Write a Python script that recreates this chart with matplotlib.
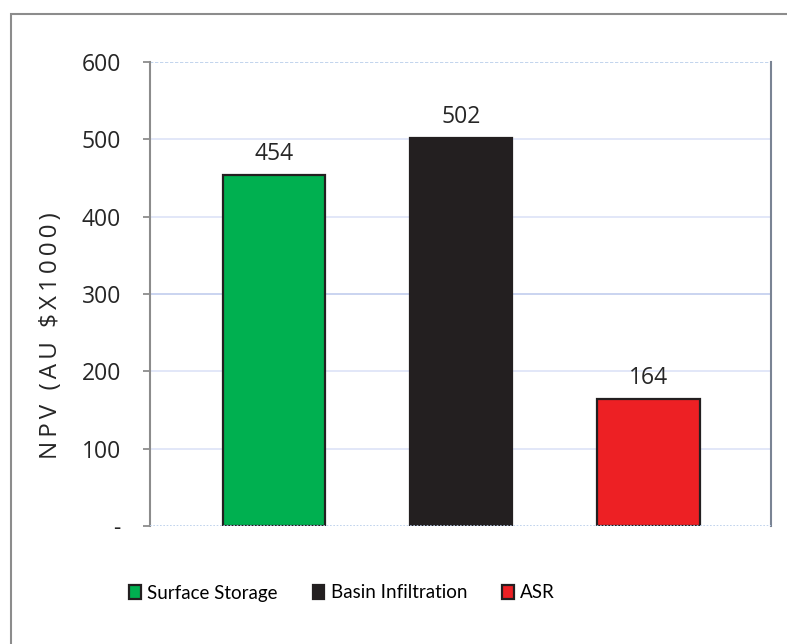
import matplotlib.pyplot as plt
from matplotlib.patches import Rectangle

# NPV per recharge option (AU $ x1000)
options = ["Surface Storage", "Basin Infiltration", "ASR"]
npv = [454, 502, 164]
bar_colors = ["#00B050", "#231F20", "#ED2024"]
edge_colors = ["#231F20", "#231F20", "#231F20"]
yticks = [0, 100, 200, 300, 400, 500, 600]
ytick_labels = ["-", "100", "200", "300", "400", "500", "600"]
ylabel = "NPV (AU $X1000)"

plt.rcParams["font.family"] = ["Open Sans", "DejaVu Sans"]

fig = plt.figure(figsize=(7.87, 6.44), dpi=100)
ax = fig.add_axes([150 / 787, 1 - 526 / 644, 621 / 787, 464 / 644])

# outer chart-area frame (only top and left fall inside the image)
fig.add_artist(Rectangle((11 / 787, -0.1), 1.2, 1 - 14 / 644 + 0.1,
                         transform=fig.transFigure, fill=False,
                         edgecolor="#8c8c8c", linewidth=1.5))

x = range(len(options))
bars = ax.bar(x, npv, width=0.55, color=bar_colors, edgecolor=edge_colors,
              linewidth=1.6, zorder=3, label=options)
for xi, v in zip(x, npv):
    ax.text(xi, v + 12, str(v), ha="center", va="bottom", fontsize=16.5,
            color="#262626")

ax.set_xlim(-0.663, 2.657)
ax.set_ylim(0, 600)
ax.set_yticks(yticks)
ax.set_yticklabels(ytick_labels, fontsize=16.5, color="#262626")
ax.set_xticks([])

for y in yticks[1:-1]:
    ax.axhline(y, color="#dde3f7", linewidth=1.2, zorder=1)
ax.axhline(300, color="#c9d4f0", linewidth=1.3, zorder=1)
ax.axhline(600, color="#b8cdea", linewidth=1.2, linestyle=(0, (2, 1)), zorder=1)
ax.axhline(0, color="#b8cdea", linewidth=1.2, linestyle=(0, (1, 1)), zorder=4)

for side in ["top", "bottom"]:
    ax.spines[side].set_visible(False)
ax.spines["left"].set_color("#8c8c8c")
ax.spines["left"].set_linewidth(1.5)
ax.spines["right"].set_color("#7a8494")
ax.spines["right"].set_linewidth(1.5)
ax.tick_params(axis="y", length=5, width=1.3, color="#8c8c8c", pad=16)

# letter-spaced axis title, sitting a little below the axis middle
ax.set_ylabel("\u2009".join(ylabel), fontsize=17.5, color="#262626")
ax.yaxis.set_label_coords(-0.14, 0.41)

leg = fig.legend(handles=bars.patches, labels=options, loc="center",
                 bbox_to_anchor=(342 / 787, 1 - 593 / 644), ncol=3,
                 frameon=False, handlelength=0.62, handleheight=0.75,
                 handletextpad=0.35, columnspacing=1.85,
                 prop={"family": ["Lato", "Open Sans"], "size": 13.5})

fig.savefig("out.png", dpi=100)
